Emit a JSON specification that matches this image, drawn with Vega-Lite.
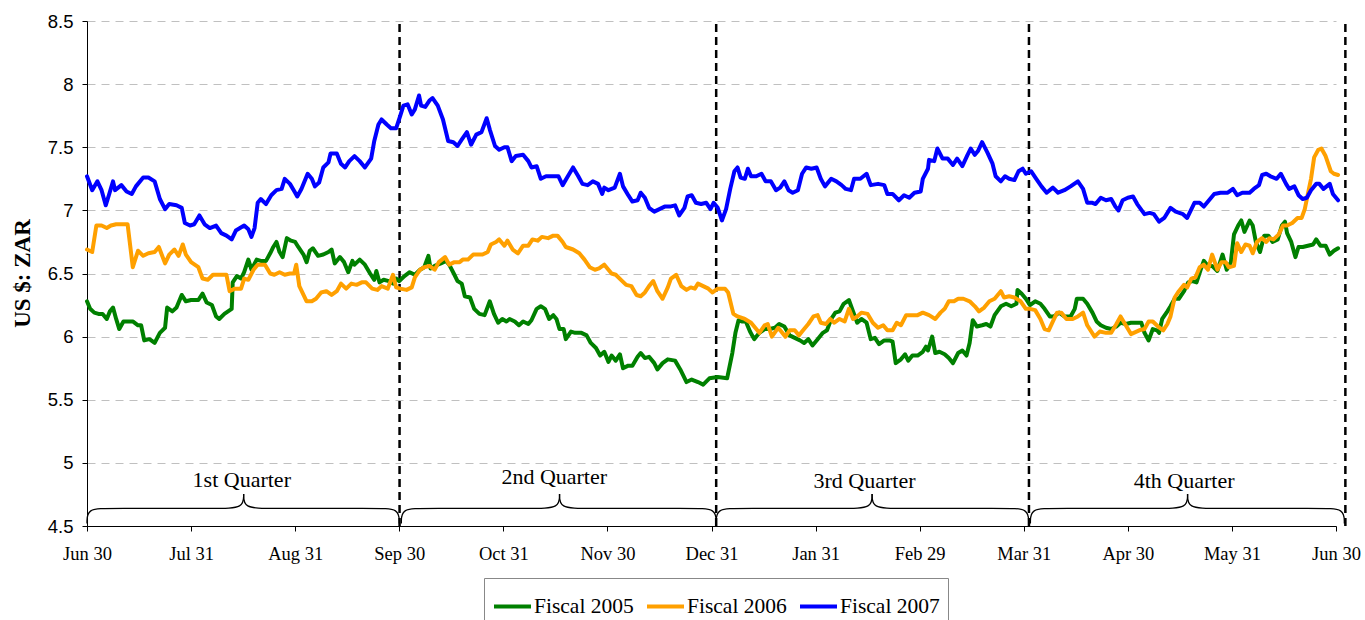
{
"$schema": "https://vega.github.io/schema/vega-lite/v6.json",
"width": 1249, "height": 505,
"autosize": {"type": "none"},
"padding": {"left": 87, "top": 21, "right": 29, "bottom": 94},
"background": "white",
"config": {
  "view": {"stroke": null},
  "legend": {"orient": "none", "legendX": 397, "legendY": 557, "direction": "horizontal", "symbolType": "stroke", "symbolSize": 1369, "symbolStrokeWidth": 4, "labelFont": "Liberation Serif", "labelFontSize": 21.5, "labelColor": "#000", "labelOffset": 1, "columnPadding": 5, "strokeColor": "#888", "padding": 8, "fillColor": "white"}
},
"datasets": {
"g05": [{"t":0,"v":6.28},{"t":0.03,"v":6.22},{"t":0.07,"v":6.19},{"t":0.11,"v":6.18},{"t":0.15,"v":6.18},{"t":0.19,"v":6.14},{"t":0.22,"v":6.2},{"t":0.25,"v":6.23},{"t":0.28,"v":6.14},{"t":0.31,"v":6.06},{"t":0.35,"v":6.12},{"t":0.39,"v":6.12},{"t":0.44,"v":6.12},{"t":0.49,"v":6.09},{"t":0.52,"v":6.09},{"t":0.55,"v":5.97},{"t":0.6,"v":5.98},{"t":0.65,"v":5.95},{"t":0.7,"v":6.03},{"t":0.75,"v":6.07},{"t":0.77,"v":6.23},{"t":0.82,"v":6.2},{"t":0.86,"v":6.23},{"t":0.91,"v":6.33},{"t":0.95,"v":6.28},{"t":1.0,"v":6.29},{"t":1.07,"v":6.29},{"t":1.11,"v":6.34},{"t":1.15,"v":6.27},{"t":1.2,"v":6.25},{"t":1.24,"v":6.16},{"t":1.27,"v":6.14},{"t":1.32,"v":6.18},{"t":1.39,"v":6.22},{"t":1.4,"v":6.43},{"t":1.44,"v":6.48},{"t":1.48,"v":6.46},{"t":1.51,"v":6.51},{"t":1.55,"v":6.61},{"t":1.58,"v":6.53},{"t":1.63,"v":6.61},{"t":1.67,"v":6.6},{"t":1.72,"v":6.6},{"t":1.76,"v":6.66},{"t":1.79,"v":6.71},{"t":1.82,"v":6.75},{"t":1.85,"v":6.67},{"t":1.88,"v":6.63},{"t":1.92,"v":6.78},{"t":1.96,"v":6.76},{"t":2.0,"v":6.75},{"t":2.03,"v":6.71},{"t":2.08,"v":6.65},{"t":2.11,"v":6.59},{"t":2.14,"v":6.68},{"t":2.17,"v":6.7},{"t":2.22,"v":6.64},{"t":2.27,"v":6.65},{"t":2.32,"v":6.67},{"t":2.35,"v":6.69},{"t":2.38,"v":6.58},{"t":2.43,"v":6.63},{"t":2.47,"v":6.59},{"t":2.51,"v":6.51},{"t":2.55,"v":6.6},{"t":2.57,"v":6.57},{"t":2.62,"v":6.61},{"t":2.67,"v":6.57},{"t":2.72,"v":6.5},{"t":2.76,"v":6.45},{"t":2.78,"v":6.52},{"t":2.81,"v":6.43},{"t":2.85,"v":6.45},{"t":2.9,"v":6.44},{"t":2.94,"v":6.42},{"t":2.97,"v":6.46},{"t":3.0,"v":6.44},{"t":3.05,"v":6.48},{"t":3.1,"v":6.51},{"t":3.15,"v":6.49},{"t":3.2,"v":6.53},{"t":3.24,"v":6.55},{"t":3.28,"v":6.64},{"t":3.3,"v":6.54},{"t":3.34,"v":6.56},{"t":3.4,"v":6.58},{"t":3.45,"v":6.6},{"t":3.48,"v":6.57},{"t":3.53,"v":6.49},{"t":3.56,"v":6.44},{"t":3.6,"v":6.42},{"t":3.63,"v":6.32},{"t":3.68,"v":6.31},{"t":3.72,"v":6.22},{"t":3.77,"v":6.18},{"t":3.82,"v":6.17},{"t":3.87,"v":6.28},{"t":3.91,"v":6.18},{"t":3.95,"v":6.11},{"t":3.99,"v":6.14},{"t":4.03,"v":6.12},{"t":4.06,"v":6.14},{"t":4.11,"v":6.12},{"t":4.15,"v":6.09},{"t":4.19,"v":6.12},{"t":4.24,"v":6.1},{"t":4.27,"v":6.13},{"t":4.32,"v":6.22},{"t":4.36,"v":6.24},{"t":4.4,"v":6.22},{"t":4.44,"v":6.14},{"t":4.48,"v":6.17},{"t":4.51,"v":6.14},{"t":4.54,"v":6.06},{"t":4.58,"v":6.06},{"t":4.6,"v":5.98},{"t":4.65,"v":6.04},{"t":4.69,"v":6.03},{"t":4.75,"v":6.03},{"t":4.8,"v":6.01},{"t":4.84,"v":5.95},{"t":4.89,"v":5.91},{"t":4.93,"v":5.85},{"t":4.97,"v":5.88},{"t":5.01,"v":5.8},{"t":5.04,"v":5.85},{"t":5.08,"v":5.81},{"t":5.12,"v":5.86},{"t":5.15,"v":5.75},{"t":5.2,"v":5.77},{"t":5.24,"v":5.77},{"t":5.29,"v":5.84},{"t":5.32,"v":5.87},{"t":5.36,"v":5.83},{"t":5.4,"v":5.84},{"t":5.45,"v":5.79},{"t":5.48,"v":5.74},{"t":5.53,"v":5.79},{"t":5.58,"v":5.82},{"t":5.65,"v":5.81},{"t":5.7,"v":5.74},{"t":5.76,"v":5.64},{"t":5.81,"v":5.66},{"t":5.87,"v":5.64},{"t":5.92,"v":5.62},{"t":5.98,"v":5.67},{"t":6.06,"v":5.68},{"t":6.15,"v":5.67},{"t":6.2,"v":5.87},{"t":6.23,"v":6.03},{"t":6.26,"v":6.13},{"t":6.29,"v":6.12},{"t":6.33,"v":6.12},{"t":6.37,"v":6.04},{"t":6.41,"v":5.98},{"t":6.46,"v":6.03},{"t":6.51,"v":6.06},{"t":6.56,"v":6.06},{"t":6.61,"v":6.07},{"t":6.65,"v":6.1},{"t":6.7,"v":6.08},{"t":6.75,"v":6.01},{"t":6.8,"v":5.99},{"t":6.85,"v":5.97},{"t":6.89,"v":5.95},{"t":6.93,"v":5.98},{"t":6.97,"v":5.93},{"t":7.02,"v":5.98},{"t":7.07,"v":6.03},{"t":7.11,"v":6.05},{"t":7.15,"v":6.14},{"t":7.19,"v":6.19},{"t":7.23,"v":6.2},{"t":7.27,"v":6.26},{"t":7.32,"v":6.29},{"t":7.36,"v":6.2},{"t":7.4,"v":6.11},{"t":7.44,"v":6.14},{"t":7.49,"v":6.11},{"t":7.53,"v":5.98},{"t":7.57,"v":5.99},{"t":7.61,"v":5.94},{"t":7.66,"v":5.97},{"t":7.71,"v":5.97},{"t":7.74,"v":5.96},{"t":7.77,"v":5.79},{"t":7.82,"v":5.82},{"t":7.86,"v":5.86},{"t":7.89,"v":5.81},{"t":7.93,"v":5.85},{"t":7.98,"v":5.85},{"t":8.03,"v":5.88},{"t":8.06,"v":5.92},{"t":8.08,"v":5.89},{"t":8.12,"v":6.0},{"t":8.15,"v":5.87},{"t":8.19,"v":5.88},{"t":8.24,"v":5.86},{"t":8.28,"v":5.83},{"t":8.32,"v":5.79},{"t":8.37,"v":5.87},{"t":8.41,"v":5.89},{"t":8.45,"v":5.85},{"t":8.48,"v":5.95},{"t":8.51,"v":6.13},{"t":8.55,"v":6.08},{"t":8.6,"v":6.09},{"t":8.64,"v":6.1},{"t":8.68,"v":6.08},{"t":8.72,"v":6.17},{"t":8.78,"v":6.24},{"t":8.83,"v":6.26},{"t":8.88,"v":6.24},{"t":8.93,"v":6.26},{"t":8.94,"v":6.37},{"t":8.98,"v":6.34},{"t":9.02,"v":6.3},{"t":9.06,"v":6.25},{"t":9.11,"v":6.28},{"t":9.16,"v":6.26},{"t":9.2,"v":6.22},{"t":9.25,"v":6.16},{"t":9.29,"v":6.16},{"t":9.34,"v":6.19},{"t":9.39,"v":6.16},{"t":9.45,"v":6.16},{"t":9.49,"v":6.22},{"t":9.51,"v":6.3},{"t":9.57,"v":6.3},{"t":9.61,"v":6.26},{"t":9.66,"v":6.19},{"t":9.7,"v":6.12},{"t":9.74,"v":6.09},{"t":9.79,"v":6.07},{"t":9.84,"v":6.06},{"t":9.89,"v":6.08},{"t":9.93,"v":6.11},{"t":9.98,"v":6.1},{"t":10.03,"v":6.11},{"t":10.09,"v":6.11},{"t":10.13,"v":6.11},{"t":10.16,"v":6.03},{"t":10.2,"v":5.97},{"t":10.24,"v":6.06},{"t":10.28,"v":6.05},{"t":10.3,"v":6.03},{"t":10.33,"v":6.14},{"t":10.38,"v":6.2},{"t":10.41,"v":6.24},{"t":10.45,"v":6.3},{"t":10.49,"v":6.3},{"t":10.54,"v":6.36},{"t":10.58,"v":6.43},{"t":10.62,"v":6.44},{"t":10.66,"v":6.43},{"t":10.7,"v":6.53},{"t":10.73,"v":6.6},{"t":10.77,"v":6.56},{"t":10.81,"v":6.56},{"t":10.86,"v":6.52},{"t":10.91,"v":6.65},{"t":10.95,"v":6.53},{"t":10.99,"v":6.59},{"t":11.02,"v":6.81},{"t":11.06,"v":6.88},{"t":11.09,"v":6.92},{"t":11.12,"v":6.83},{"t":11.17,"v":6.92},{"t":11.2,"v":6.88},{"t":11.23,"v":6.75},{"t":11.27,"v":6.67},{"t":11.31,"v":6.8},{"t":11.35,"v":6.8},{"t":11.39,"v":6.75},{"t":11.44,"v":6.77},{"t":11.48,"v":6.88},{"t":11.51,"v":6.91},{"t":11.53,"v":6.82},{"t":11.57,"v":6.75},{"t":11.61,"v":6.63},{"t":11.64,"v":6.71},{"t":11.68,"v":6.71},{"t":11.73,"v":6.72},{"t":11.78,"v":6.73},{"t":11.81,"v":6.77},{"t":11.85,"v":6.72},{"t":11.9,"v":6.72},{"t":11.94,"v":6.65},{"t":11.98,"v":6.68},{"t":12.02,"v":6.7}],
"g06": [{"t":0,"v":6.69},{"t":0.05,"v":6.67},{"t":0.09,"v":6.88},{"t":0.14,"v":6.88},{"t":0.19,"v":6.86},{"t":0.23,"v":6.88},{"t":0.28,"v":6.89},{"t":0.33,"v":6.89},{"t":0.39,"v":6.89},{"t":0.44,"v":6.55},{"t":0.49,"v":6.68},{"t":0.54,"v":6.64},{"t":0.59,"v":6.66},{"t":0.65,"v":6.67},{"t":0.69,"v":6.71},{"t":0.75,"v":6.58},{"t":0.79,"v":6.65},{"t":0.84,"v":6.69},{"t":0.88,"v":6.64},{"t":0.92,"v":6.73},{"t":0.95,"v":6.65},{"t":1.0,"v":6.59},{"t":1.07,"v":6.55},{"t":1.11,"v":6.46},{"t":1.16,"v":6.45},{"t":1.21,"v":6.49},{"t":1.27,"v":6.49},{"t":1.34,"v":6.49},{"t":1.37,"v":6.36},{"t":1.42,"v":6.38},{"t":1.48,"v":6.38},{"t":1.51,"v":6.46},{"t":1.55,"v":6.45},{"t":1.6,"v":6.53},{"t":1.64,"v":6.57},{"t":1.71,"v":6.57},{"t":1.76,"v":6.5},{"t":1.8,"v":6.49},{"t":1.85,"v":6.51},{"t":1.9,"v":6.49},{"t":1.95,"v":6.5},{"t":1.99,"v":6.5},{"t":2.01,"v":6.57},{"t":2.04,"v":6.4},{"t":2.11,"v":6.28},{"t":2.16,"v":6.28},{"t":2.2,"v":6.3},{"t":2.25,"v":6.35},{"t":2.3,"v":6.36},{"t":2.35,"v":6.33},{"t":2.4,"v":6.36},{"t":2.44,"v":6.42},{"t":2.49,"v":6.38},{"t":2.54,"v":6.42},{"t":2.59,"v":6.41},{"t":2.64,"v":6.43},{"t":2.68,"v":6.43},{"t":2.74,"v":6.38},{"t":2.79,"v":6.37},{"t":2.83,"v":6.4},{"t":2.89,"v":6.38},{"t":2.94,"v":6.49},{"t":2.97,"v":6.39},{"t":3.01,"v":6.38},{"t":3.07,"v":6.37},{"t":3.12,"v":6.39},{"t":3.15,"v":6.47},{"t":3.2,"v":6.53},{"t":3.24,"v":6.55},{"t":3.29,"v":6.56},{"t":3.34,"v":6.53},{"t":3.38,"v":6.59},{"t":3.44,"v":6.63},{"t":3.48,"v":6.57},{"t":3.53,"v":6.59},{"t":3.58,"v":6.59},{"t":3.61,"v":6.61},{"t":3.66,"v":6.61},{"t":3.71,"v":6.65},{"t":3.76,"v":6.65},{"t":3.8,"v":6.65},{"t":3.85,"v":6.67},{"t":3.88,"v":6.73},{"t":3.93,"v":6.75},{"t":3.96,"v":6.77},{"t":4.01,"v":6.72},{"t":4.04,"v":6.76},{"t":4.09,"v":6.69},{"t":4.14,"v":6.66},{"t":4.19,"v":6.72},{"t":4.24,"v":6.72},{"t":4.28,"v":6.77},{"t":4.33,"v":6.76},{"t":4.37,"v":6.79},{"t":4.43,"v":6.78},{"t":4.48,"v":6.8},{"t":4.52,"v":6.8},{"t":4.57,"v":6.75},{"t":4.6,"v":6.71},{"t":4.67,"v":6.69},{"t":4.73,"v":6.66},{"t":4.78,"v":6.61},{"t":4.83,"v":6.55},{"t":4.88,"v":6.53},{"t":4.92,"v":6.54},{"t":4.97,"v":6.57},{"t":5.0,"v":6.54},{"t":5.04,"v":6.5},{"t":5.08,"v":6.49},{"t":5.13,"v":6.45},{"t":5.18,"v":6.41},{"t":5.23,"v":6.4},{"t":5.28,"v":6.33},{"t":5.32,"v":6.32},{"t":5.36,"v":6.35},{"t":5.4,"v":6.4},{"t":5.44,"v":6.44},{"t":5.48,"v":6.36},{"t":5.53,"v":6.3},{"t":5.58,"v":6.39},{"t":5.61,"v":6.46},{"t":5.66,"v":6.49},{"t":5.71,"v":6.4},{"t":5.76,"v":6.37},{"t":5.8,"v":6.39},{"t":5.84,"v":6.38},{"t":5.87,"v":6.42},{"t":5.92,"v":6.4},{"t":5.97,"v":6.38},{"t":6.01,"v":6.35},{"t":6.06,"v":6.38},{"t":6.13,"v":6.38},{"t":6.16,"v":6.35},{"t":6.21,"v":6.18},{"t":6.25,"v":6.16},{"t":6.32,"v":6.14},{"t":6.38,"v":6.11},{"t":6.43,"v":6.06},{"t":6.46,"v":6.03},{"t":6.51,"v":6.09},{"t":6.54,"v":6.1},{"t":6.58,"v":6.0},{"t":6.64,"v":6.07},{"t":6.67,"v":6.04},{"t":6.71,"v":6.0},{"t":6.75,"v":6.05},{"t":6.8,"v":6.05},{"t":6.84,"v":6.01},{"t":6.88,"v":6.05},{"t":6.93,"v":6.1},{"t":6.98,"v":6.16},{"t":7.02,"v":6.17},{"t":7.05,"v":6.11},{"t":7.1,"v":6.1},{"t":7.14,"v":6.14},{"t":7.18,"v":6.11},{"t":7.23,"v":6.14},{"t":7.28,"v":6.12},{"t":7.32,"v":6.22},{"t":7.36,"v":6.14},{"t":7.4,"v":6.16},{"t":7.44,"v":6.19},{"t":7.5,"v":6.18},{"t":7.55,"v":6.11},{"t":7.6,"v":6.07},{"t":7.65,"v":6.09},{"t":7.69,"v":6.05},{"t":7.74,"v":6.05},{"t":7.78,"v":6.11},{"t":7.82,"v":6.09},{"t":7.87,"v":6.17},{"t":7.92,"v":6.17},{"t":7.98,"v":6.17},{"t":8.03,"v":6.19},{"t":8.09,"v":6.17},{"t":8.15,"v":6.14},{"t":8.2,"v":6.19},{"t":8.24,"v":6.22},{"t":8.28,"v":6.28},{"t":8.33,"v":6.28},{"t":8.37,"v":6.3},{"t":8.42,"v":6.3},{"t":8.48,"v":6.28},{"t":8.53,"v":6.24},{"t":8.57,"v":6.2},{"t":8.62,"v":6.23},{"t":8.67,"v":6.28},{"t":8.72,"v":6.3},{"t":8.78,"v":6.36},{"t":8.81,"v":6.31},{"t":8.86,"v":6.32},{"t":8.91,"v":6.31},{"t":8.97,"v":6.28},{"t":9.02,"v":6.22},{"t":9.06,"v":6.22},{"t":9.11,"v":6.21},{"t":9.16,"v":6.14},{"t":9.2,"v":6.06},{"t":9.24,"v":6.05},{"t":9.28,"v":6.12},{"t":9.32,"v":6.19},{"t":9.36,"v":6.19},{"t":9.41,"v":6.14},{"t":9.47,"v":6.14},{"t":9.52,"v":6.16},{"t":9.57,"v":6.19},{"t":9.61,"v":6.09},{"t":9.68,"v":6.0},{"t":9.73,"v":6.04},{"t":9.79,"v":6.03},{"t":9.84,"v":6.03},{"t":9.89,"v":6.1},{"t":9.93,"v":6.16},{"t":9.98,"v":6.09},{"t":10.03,"v":6.02},{"t":10.11,"v":6.05},{"t":10.16,"v":6.06},{"t":10.2,"v":6.12},{"t":10.24,"v":6.12},{"t":10.29,"v":6.08},{"t":10.34,"v":6.05},{"t":10.38,"v":6.1},{"t":10.41,"v":6.16},{"t":10.45,"v":6.31},{"t":10.49,"v":6.36},{"t":10.54,"v":6.41},{"t":10.57,"v":6.39},{"t":10.61,"v":6.46},{"t":10.65,"v":6.47},{"t":10.69,"v":6.55},{"t":10.73,"v":6.57},{"t":10.77,"v":6.53},{"t":10.81,"v":6.65},{"t":10.86,"v":6.53},{"t":10.9,"v":6.59},{"t":10.94,"v":6.59},{"t":10.97,"v":6.55},{"t":11.02,"v":6.56},{"t":11.05,"v":6.74},{"t":11.09,"v":6.67},{"t":11.13,"v":6.73},{"t":11.17,"v":6.72},{"t":11.2,"v":6.66},{"t":11.24,"v":6.75},{"t":11.29,"v":6.78},{"t":11.33,"v":6.75},{"t":11.36,"v":6.78},{"t":11.4,"v":6.77},{"t":11.45,"v":6.81},{"t":11.49,"v":6.88},{"t":11.53,"v":6.88},{"t":11.58,"v":6.9},{"t":11.63,"v":6.94},{"t":11.67,"v":6.94},{"t":11.7,"v":7.01},{"t":11.73,"v":7.13},{"t":11.76,"v":7.25},{"t":11.79,"v":7.42},{"t":11.83,"v":7.48},{"t":11.86,"v":7.49},{"t":11.9,"v":7.43},{"t":11.95,"v":7.31},{"t":11.98,"v":7.29},{"t":12.02,"v":7.28}],
"g07": [{"t":0,"v":7.27},{"t":0.05,"v":7.16},{"t":0.1,"v":7.23},{"t":0.14,"v":7.16},{"t":0.18,"v":7.04},{"t":0.21,"v":7.12},{"t":0.25,"v":7.23},{"t":0.27,"v":7.16},{"t":0.33,"v":7.2},{"t":0.38,"v":7.15},{"t":0.43,"v":7.13},{"t":0.47,"v":7.19},{"t":0.54,"v":7.26},{"t":0.59,"v":7.26},{"t":0.65,"v":7.23},{"t":0.7,"v":7.09},{"t":0.75,"v":7.01},{"t":0.79,"v":7.05},{"t":0.86,"v":7.04},{"t":0.91,"v":7.02},{"t":0.94,"v":6.9},{"t":0.99,"v":6.88},{"t":1.03,"v":6.89},{"t":1.08,"v":6.96},{"t":1.13,"v":6.89},{"t":1.18,"v":6.86},{"t":1.24,"v":6.88},{"t":1.29,"v":6.82},{"t":1.34,"v":6.8},{"t":1.39,"v":6.77},{"t":1.43,"v":6.84},{"t":1.47,"v":6.86},{"t":1.51,"v":6.88},{"t":1.55,"v":6.85},{"t":1.58,"v":6.79},{"t":1.61,"v":6.86},{"t":1.64,"v":7.06},{"t":1.67,"v":7.09},{"t":1.72,"v":7.05},{"t":1.77,"v":7.12},{"t":1.82,"v":7.16},{"t":1.87,"v":7.17},{"t":1.9,"v":7.25},{"t":1.95,"v":7.21},{"t":2.0,"v":7.14},{"t":2.02,"v":7.11},{"t":2.06,"v":7.17},{"t":2.12,"v":7.29},{"t":2.16,"v":7.25},{"t":2.19,"v":7.19},{"t":2.23,"v":7.22},{"t":2.27,"v":7.34},{"t":2.32,"v":7.38},{"t":2.34,"v":7.45},{"t":2.4,"v":7.45},{"t":2.44,"v":7.37},{"t":2.48,"v":7.34},{"t":2.52,"v":7.39},{"t":2.57,"v":7.43},{"t":2.62,"v":7.39},{"t":2.67,"v":7.34},{"t":2.73,"v":7.41},{"t":2.76,"v":7.55},{"t":2.8,"v":7.68},{"t":2.83,"v":7.72},{"t":2.88,"v":7.68},{"t":2.92,"v":7.65},{"t":2.97,"v":7.65},{"t":3.01,"v":7.75},{"t":3.04,"v":7.83},{"t":3.08,"v":7.84},{"t":3.12,"v":7.76},{"t":3.15,"v":7.8},{"t":3.19,"v":7.91},{"t":3.21,"v":7.83},{"t":3.25,"v":7.82},{"t":3.29,"v":7.87},{"t":3.32,"v":7.89},{"t":3.37,"v":7.83},{"t":3.42,"v":7.72},{"t":3.47,"v":7.55},{"t":3.52,"v":7.54},{"t":3.56,"v":7.51},{"t":3.6,"v":7.56},{"t":3.65,"v":7.62},{"t":3.69,"v":7.52},{"t":3.74,"v":7.6},{"t":3.79,"v":7.62},{"t":3.84,"v":7.73},{"t":3.87,"v":7.64},{"t":3.92,"v":7.51},{"t":3.96,"v":7.48},{"t":4.01,"v":7.5},{"t":4.04,"v":7.5},{"t":4.08,"v":7.39},{"t":4.12,"v":7.43},{"t":4.19,"v":7.44},{"t":4.24,"v":7.39},{"t":4.27,"v":7.34},{"t":4.32,"v":7.35},{"t":4.36,"v":7.25},{"t":4.41,"v":7.27},{"t":4.48,"v":7.27},{"t":4.53,"v":7.27},{"t":4.57,"v":7.2},{"t":4.62,"v":7.27},{"t":4.67,"v":7.34},{"t":4.72,"v":7.27},{"t":4.76,"v":7.21},{"t":4.81,"v":7.2},{"t":4.86,"v":7.23},{"t":4.91,"v":7.21},{"t":4.95,"v":7.13},{"t":4.97,"v":7.18},{"t":5.01,"v":7.16},{"t":5.07,"v":7.18},{"t":5.12,"v":7.29},{"t":5.15,"v":7.19},{"t":5.2,"v":7.12},{"t":5.24,"v":7.07},{"t":5.29,"v":7.08},{"t":5.32,"v":7.14},{"t":5.36,"v":7.1},{"t":5.4,"v":7.02},{"t":5.45,"v":6.99},{"t":5.5,"v":7.01},{"t":5.55,"v":7.03},{"t":5.6,"v":7.03},{"t":5.65,"v":7.04},{"t":5.69,"v":6.96},{"t":5.74,"v":7.02},{"t":5.77,"v":7.11},{"t":5.81,"v":7.12},{"t":5.85,"v":7.06},{"t":5.9,"v":7.05},{"t":5.95,"v":7.06},{"t":5.99,"v":7.01},{"t":6.02,"v":7.06},{"t":6.06,"v":7.02},{"t":6.1,"v":6.92},{"t":6.14,"v":7.01},{"t":6.18,"v":7.17},{"t":6.22,"v":7.31},{"t":6.25,"v":7.34},{"t":6.28,"v":7.26},{"t":6.32,"v":7.25},{"t":6.35,"v":7.33},{"t":6.38,"v":7.27},{"t":6.43,"v":7.27},{"t":6.48,"v":7.29},{"t":6.52,"v":7.23},{"t":6.57,"v":7.23},{"t":6.62,"v":7.16},{"t":6.66,"v":7.18},{"t":6.7,"v":7.23},{"t":6.74,"v":7.16},{"t":6.78,"v":7.14},{"t":6.83,"v":7.16},{"t":6.87,"v":7.29},{"t":6.91,"v":7.34},{"t":6.96,"v":7.33},{"t":7.01,"v":7.34},{"t":7.05,"v":7.25},{"t":7.09,"v":7.19},{"t":7.15,"v":7.25},{"t":7.2,"v":7.23},{"t":7.25,"v":7.2},{"t":7.29,"v":7.17},{"t":7.34,"v":7.16},{"t":7.37,"v":7.25},{"t":7.43,"v":7.25},{"t":7.49,"v":7.29},{"t":7.53,"v":7.2},{"t":7.6,"v":7.21},{"t":7.66,"v":7.2},{"t":7.69,"v":7.13},{"t":7.74,"v":7.13},{"t":7.8,"v":7.08},{"t":7.85,"v":7.12},{"t":7.9,"v":7.1},{"t":7.95,"v":7.14},{"t":8.01,"v":7.15},{"t":8.03,"v":7.25},{"t":8.08,"v":7.33},{"t":8.09,"v":7.4},{"t":8.14,"v":7.39},{"t":8.17,"v":7.49},{"t":8.22,"v":7.41},{"t":8.27,"v":7.41},{"t":8.32,"v":7.36},{"t":8.36,"v":7.41},{"t":8.41,"v":7.35},{"t":8.46,"v":7.44},{"t":8.49,"v":7.49},{"t":8.53,"v":7.44},{"t":8.56,"v":7.47},{"t":8.6,"v":7.54},{"t":8.65,"v":7.46},{"t":8.7,"v":7.37},{"t":8.73,"v":7.27},{"t":8.78,"v":7.23},{"t":8.82,"v":7.27},{"t":8.86,"v":7.25},{"t":8.91,"v":7.24},{"t":8.95,"v":7.31},{"t":8.99,"v":7.33},{"t":9.02,"v":7.29},{"t":9.07,"v":7.31},{"t":9.12,"v":7.25},{"t":9.17,"v":7.19},{"t":9.22,"v":7.14},{"t":9.28,"v":7.18},{"t":9.33,"v":7.14},{"t":9.39,"v":7.16},{"t":9.45,"v":7.19},{"t":9.52,"v":7.23},{"t":9.57,"v":7.17},{"t":9.61,"v":7.06},{"t":9.66,"v":7.06},{"t":9.69,"v":7.05},{"t":9.74,"v":7.1},{"t":9.79,"v":7.08},{"t":9.84,"v":7.09},{"t":9.88,"v":7.03},{"t":9.91,"v":7.0},{"t":9.95,"v":7.08},{"t":10.0,"v":7.1},{"t":10.05,"v":7.11},{"t":10.09,"v":7.05},{"t":10.16,"v":6.97},{"t":10.21,"v":6.98},{"t":10.25,"v":6.97},{"t":10.3,"v":6.91},{"t":10.35,"v":6.94},{"t":10.41,"v":7.02},{"t":10.46,"v":6.99},{"t":10.53,"v":6.97},{"t":10.57,"v":6.94},{"t":10.64,"v":7.06},{"t":10.69,"v":7.06},{"t":10.73,"v":7.03},{"t":10.78,"v":7.08},{"t":10.83,"v":7.13},{"t":10.89,"v":7.14},{"t":10.96,"v":7.14},{"t":11.01,"v":7.17},{"t":11.05,"v":7.12},{"t":11.1,"v":7.14},{"t":11.17,"v":7.14},{"t":11.21,"v":7.17},{"t":11.26,"v":7.2},{"t":11.29,"v":7.28},{"t":11.33,"v":7.29},{"t":11.37,"v":7.27},{"t":11.43,"v":7.25},{"t":11.47,"v":7.29},{"t":11.52,"v":7.21},{"t":11.55,"v":7.17},{"t":11.6,"v":7.19},{"t":11.64,"v":7.12},{"t":11.68,"v":7.09},{"t":11.72,"v":7.1},{"t":11.76,"v":7.16},{"t":11.81,"v":7.21},{"t":11.84,"v":7.21},{"t":11.88,"v":7.17},{"t":11.94,"v":7.21},{"t":11.97,"v":7.13},{"t":12.02,"v":7.08}],
"br": [
{"g":"1L","o":0,"t":0,"v":4.52},{"g":"1L","o":1,"t":0,"v":4.64},{"g":"1L","o":2,"t":0.22,"v":4.64},{"g":"1L","o":3,"t":1.265,"v":4.64},{"g":"1L","o":4,"t":1.505,"v":4.64},{"g":"1L","o":5,"t":1.505,"v":4.754},
{"g":"1R","o":0,"t":1.505,"v":4.754},{"g":"1R","o":1,"t":1.505,"v":4.64},{"g":"1R","o":2,"t":1.745,"v":4.64},{"g":"1R","o":3,"t":2.78,"v":4.64},{"g":"1R","o":4,"t":3.0,"v":4.64},{"g":"1R","o":5,"t":3.0,"v":4.52},
{"g":"2L","o":0,"t":3.02,"v":4.52},{"g":"2L","o":1,"t":3.02,"v":4.64},{"g":"2L","o":2,"t":3.24,"v":4.64},{"g":"2L","o":3,"t":4.3,"v":4.64},{"g":"2L","o":4,"t":4.54,"v":4.64},{"g":"2L","o":5,"t":4.54,"v":4.754},
{"g":"2R","o":0,"t":4.54,"v":4.754},{"g":"2R","o":1,"t":4.54,"v":4.64},{"g":"2R","o":2,"t":4.78,"v":4.64},{"g":"2R","o":3,"t":5.825,"v":4.64},{"g":"2R","o":4,"t":6.045,"v":4.64},{"g":"2R","o":5,"t":6.045,"v":4.52},
{"g":"3L","o":0,"t":6.045,"v":4.52},{"g":"3L","o":1,"t":6.045,"v":4.64},{"g":"3L","o":2,"t":6.265,"v":4.64},{"g":"3L","o":3,"t":7.303,"v":4.64},{"g":"3L","o":4,"t":7.543,"v":4.64},{"g":"3L","o":5,"t":7.543,"v":4.754},
{"g":"3R","o":0,"t":7.543,"v":4.754},{"g":"3R","o":1,"t":7.543,"v":4.64},{"g":"3R","o":2,"t":7.783,"v":4.64},{"g":"3R","o":3,"t":8.827,"v":4.64},{"g":"3R","o":4,"t":9.047,"v":4.64},{"g":"3R","o":5,"t":9.047,"v":4.52},
{"g":"4L","o":0,"t":9.064,"v":4.52},{"g":"4L","o":1,"t":9.064,"v":4.64},{"g":"4L","o":2,"t":9.284,"v":4.64},{"g":"4L","o":3,"t":10.334,"v":4.64},{"g":"4L","o":4,"t":10.574,"v":4.64},{"g":"4L","o":5,"t":10.574,"v":4.754},
{"g":"4R","o":0,"t":10.574,"v":4.754},{"g":"4R","o":1,"t":10.574,"v":4.64},{"g":"4R","o":2,"t":10.814,"v":4.64},{"g":"4R","o":3,"t":11.86,"v":4.64},{"g":"4R","o":4,"t":12.08,"v":4.64},{"g":"4R","o":5,"t":12.08,"v":4.52}
],
"q": [{"t":1.487,"v":4.807,"label":"1st Quarter"},{"t":4.489,"v":4.829,"label":"2nd Quarter"},{"t":7.47,"v":4.802,"label":"3rd Quarter"},{"t":10.541,"v":4.802,"label":"4th Quarter"}],
"vl": [{"t":3.003,"v":4.5,"v2":8.48},{"t":6.045,"v":4.5,"v2":8.48},{"t":9.05,"v":4.5,"v2":8.48},{"t":12.09,"v":4.5,"v2":8.48}]
},
"encoding": {
  "x": {"field": "t", "type": "quantitative",
        "scale": {"domain": [0, 12], "nice": false, "zero": false},
        "axis": {"values": [0,1,2,3,4,5,6,7,8,9,10,11,12], "title": null, "grid": false,
                 "labelExpr": "['Jun 30','Jul 31','Aug 31','Sep 30','Oct 31','Nov 30','Dec 31','Jan 31','Feb 29','Mar 31','Apr 30','May 31','Jun 30'][datum.value]",
                 "domainColor": "#000", "tickColor": "#000", "tickSize": 5, "labelFont": "Liberation Serif", "labelFontSize": 18.5, "labelColor": "#000", "labelPadding": 13, "labelFlush": false, "labelOverlap": false}},
  "y": {"field": "v", "type": "quantitative",
        "scale": {"domain": [4.5, 8.5], "nice": false, "zero": false},
        "axis": {"values": [4.5,5,5.5,6,6.5,7,7.5,8,8.5], "format": "~g", "title": "US $: ZAR",
                 "titleFont": "Liberation Serif", "titleFontWeight": "bold", "titleFontSize": 23, "titleColor": "#000",
                 "titleX": -65, "titleY": 252, "titleAngle": -90, "titleAlign": "center", "titleBaseline": "middle",
                 "grid": true, "gridColor": "#c0c0c0", "gridDash": [8, 6], "gridWidth": 1,
                 "domainColor": "#000", "tickColor": "#000", "tickSize": 5,
                 "labelFont": "Liberation Sans", "labelFontSize": 18.5, "labelColor": "#000", "labelPadding": 9}}
},
"layer": [
  {"data": {"name": "br"}, "mark": {"type": "line", "interpolate": "basis", "color": "#000", "strokeWidth": 1.3},
   "encoding": {"detail": {"field": "g"}, "order": {"field": "o", "type": "quantitative"}}},
  {"data": {"name": "q"}, "mark": {"type": "text", "font": "Liberation Serif", "fontSize": 22, "color": "#000", "align": "center", "baseline": "alphabetic"},
   "encoding": {"text": {"field": "label"}}},
  {"data": {"name": "vl"}, "mark": {"type": "rule", "color": "#000", "strokeWidth": 2.5, "strokeDash": [8, 5]},
   "encoding": {"y2": {"field": "v2"}}},
  {"data": {"name": "g05"}, "mark": {"type": "line", "strokeWidth": 4, "strokeJoin": "round", "strokeCap": "round"},
   "encoding": {"color": {"datum": "Fiscal 2005", "type": "nominal", "scale": {"domain": ["Fiscal 2005", "Fiscal 2006", "Fiscal 2007"], "range": ["#008000", "#FFA000", "#0000FF"]}, "legend": {"title": null}}}},
  {"data": {"name": "g06"}, "mark": {"type": "line", "strokeWidth": 4, "strokeJoin": "round", "strokeCap": "round"},
   "encoding": {"color": {"datum": "Fiscal 2006", "type": "nominal", "scale": {"domain": ["Fiscal 2005", "Fiscal 2006", "Fiscal 2007"], "range": ["#008000", "#FFA000", "#0000FF"]}, "legend": {"title": null}}}},
  {"data": {"name": "g07"}, "mark": {"type": "line", "strokeWidth": 4, "strokeJoin": "round", "strokeCap": "round"},
   "encoding": {"color": {"datum": "Fiscal 2007", "type": "nominal", "scale": {"domain": ["Fiscal 2005", "Fiscal 2006", "Fiscal 2007"], "range": ["#008000", "#FFA000", "#0000FF"]}, "legend": {"title": null}}}}
]
}
